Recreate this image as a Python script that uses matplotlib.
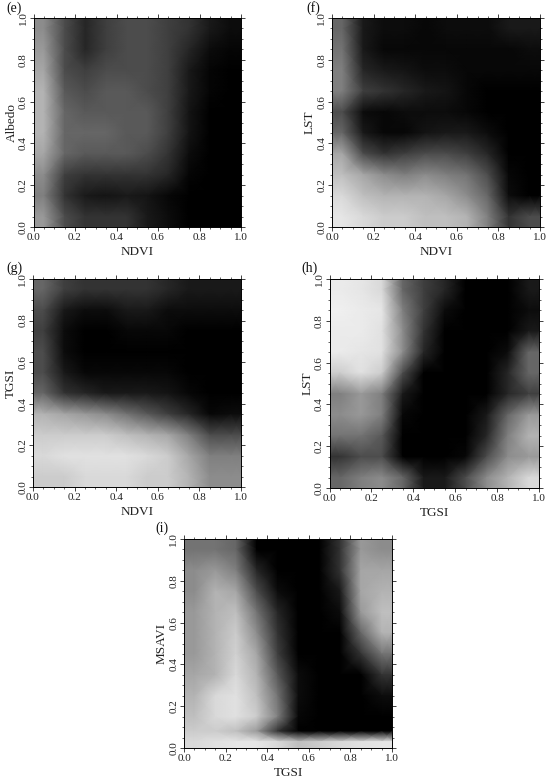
import numpy as np
import matplotlib
matplotlib.use("Agg")
import matplotlib.pyplot as plt
from matplotlib.ticker import MultipleLocator

plt.rcParams['font.family'] = ['Liberation Serif', 'DejaVu Serif']

# Estimated ink coverage of each panel.
# Rows run from the top of the panel down; columns from x = 0.05 to x = 0.95.
x_levels = [.05, .15, .25, .35, .45, .55, .65, .75, .85, .95]
y_levels = [.95, .85, .75, .65, .55, .45, .35, .25, .15, .05]
y_levels_msavi = [.95, .85, .75, .65, .55, .45, .35, .25, .15, .08, .03]

albedo_ndvi = [
    [.45, .70, .85, .75, .70, .70, .75, .80, .90, .95],
    [.40, .70, .85, .75, .70, .70, .75, .85, .95, .98],
    [.35, .70, .75, .70, .70, .70, .75, .90, .98, 1.0],
    [.30, .65, .70, .65, .65, .70, .75, .90, .98, 1.0],
    [.30, .60, .65, .65, .65, .65, .75, .92, 1.0, 1.0],
    [.30, .60, .60, .60, .65, .65, .75, .92, 1.0, 1.0],
    [.35, .60, .65, .65, .65, .70, .80, .95, 1.0, 1.0],
    [.45, .75, .80, .80, .80, .80, .85, .98, 1.0, 1.0],
    [.50, .80, .90, .92, .90, .92, .97, 1.0, 1.0, 1.0],
    [.40, .70, .80, .80, .80, .90, .95, 1.0, 1.0, 1.0],
]
lst_ndvi = [
    [.60, .90, .95, .95, .97, .95, .95, .95, .90, .90],
    [.55, .90, .97, .97, .97, .97, .97, .97, .97, .95],
    [.50, .85, .90, .92, .95, .95, .97, .97, .97, .97],
    [.50, .75, .80, .85, .90, .92, .97, 1.0, 1.0, 1.0],
    [.70, .95, .97, .95, .95, .95, .97, 1.0, 1.0, 1.0],
    [.60, .90, .97, .97, .92, .90, .90, .95, 1.0, 1.0],
    [.35, .70, .80, .75, .70, .70, .75, .85, 1.0, 1.0],
    [.25, .35, .45, .50, .45, .50, .55, .70, .97, 1.0],
    [.15, .25, .30, .30, .30, .35, .45, .60, .95, 1.0],
    [.10, .15, .20, .20, .25, .25, .30, .50, .80, .70],
]
tgsi_ndvi = [
    [.60, .75, .80, .80, .80, .80, .85, .90, .90, .90],
    [.70, .90, .95, .95, .90, .90, .95, .95, .95, .95],
    [.75, .95, 1.0, 1.0, .97, .97, .97, 1.0, 1.0, 1.0],
    [.70, .95, 1.0, 1.0, 1.0, 1.0, 1.0, 1.0, 1.0, 1.0],
    [.70, .90, .97, .97, .97, .97, .97, 1.0, 1.0, 1.0],
    [.60, .80, .85, .90, .90, .90, .92, .97, 1.0, 1.0],
    [.30, .35, .40, .45, .55, .65, .75, .85, .97, .95],
    [.20, .20, .20, .20, .25, .30, .35, .50, .70, .70],
    [.15, .12, .12, .12, .12, .15, .20, .35, .50, .50],
    [.20, .20, .15, .15, .15, .20, .20, .30, .45, .45],
]
lst_tgsi = [
    [.08, .10, .15, .60, .75, .85, 1.0, 1.0, 1.0, .90],
    [.06, .08, .10, .50, .75, .95, 1.0, 1.0, 1.0, .95],
    [.08, .08, .12, .45, .80, 1.0, 1.0, 1.0, 1.0, .90],
    [.08, .10, .12, .45, .85, 1.0, 1.0, 1.0, .95, .60],
    [.20, .12, .20, .70, 1.0, 1.0, 1.0, 1.0, .85, .60],
    [.50, .40, .50, .90, 1.0, 1.0, 1.0, 1.0, .85, .75],
    [.45, .40, .50, .97, 1.0, 1.0, 1.0, .90, .60, .40],
    [.55, .55, .65, 1.0, 1.0, 1.0, 1.0, .85, .50, .30],
    [.80, .70, .70, 1.0, 1.0, 1.0, .97, .70, .45, .40],
    [.60, .50, .45, .60, .90, .90, .70, .45, .30, .15],
]
msavi_tgsi = [
    [.55, .55, .60, 1.0, 1.0, 1.0, 1.0, .80, .40, .45],
    [.45, .40, .50, .85, 1.0, 1.0, 1.0, .80, .35, .35],
    [.45, .30, .35, .70, .95, 1.0, 1.0, .90, .35, .30],
    [.40, .30, .25, .55, .85, 1.0, 1.0, .95, .40, .25],
    [.40, .30, .20, .45, .80, 1.0, 1.0, 1.0, .60, .30],
    [.40, .30, .18, .35, .75, 1.0, 1.0, 1.0, .80, .55],
    [.35, .30, .15, .30, .65, .95, 1.0, 1.0, 1.0, .80],
    [.30, .15, .12, .25, .55, .95, 1.0, 1.0, 1.0, .95],
    [.25, .15, .12, .20, .50, .97, 1.0, 1.0, 1.0, 1.0],
    [.20, .20, .25, .40, .80, 1.0, 1.0, 1.0, 1.0, 1.0],
    [.15, .12, .10, .10, .15, .25, .20, .15, .12, .10],
]

panel_tags = ['(e)', '(f)', '(g)', '(h)', '(i)']
x_titles = ['NDVI', 'NDVI', 'NDVI', 'TGSI', 'TGSI']
y_titles = ['Albedo', 'LST', 'TGSI', 'LST', 'MSAVI']
grids = [albedo_ndvi, lst_ndvi, tgsi_ndvi, lst_tgsi, msavi_tgsi]
grid_rows = [y_levels, y_levels, y_levels, y_levels, y_levels_msavi]
tick_labels = ['0.0', '0.2', '0.4', '0.6', '0.8', '1.0']

W, H = 550, 780
boxes = [(33.5, 18, 241, 227), (332, 18, 540, 227), (33, 279, 241, 487),
         (329.5, 279, 539, 488), (184, 539, 392, 748)]
tag_xy = [(6, 8), (306, 8), (6, 268), (301, 268), (155, 528)]

fig = plt.figure(figsize=(W / 100, H / 100), dpi=100)
ticks = [0, .2, .4, .6, .8, 1]
for grid, rows, box, tag, xy, xt, yt in zip(grids, grid_rows, boxes, panel_tags, tag_xy, x_titles, y_titles):
    l, t, r, b = box
    ax = fig.add_axes([l / W, 1 - b / H, (r - l) / W, (b - t) / H])
    # repeat the outer rows and columns so the shading reaches the frame
    xs = np.concatenate(([0], x_levels, [1]))
    ys = np.concatenate(([1], rows, [0]))
    zs = np.pad(np.array(grid), 1, mode='edge')
    ax.pcolormesh(xs, ys, zs, cmap='gray_r', vmin=0, vmax=1, shading='gouraud')
    ax.set_xlim(0, 1)
    ax.set_ylim(0, 1)
    ax.set_xticks(ticks, tick_labels, fontsize=8)
    ax.set_yticks(ticks, tick_labels, fontsize=8, rotation=90, va='center')
    ax.xaxis.set_minor_locator(MultipleLocator(0.05))
    ax.yaxis.set_minor_locator(MultipleLocator(0.05))
    ax.tick_params(which='major', direction='out', length=3, width=0.6, pad=1,
                   top=True, right=True, colors='#222222')
    ax.tick_params(which='minor', direction='out', length=1.5, width=0.5,
                   top=True, right=True, colors='#222222')
    for s in ax.spines.values():
        s.set_linewidth(0.7)
    ax.set_xlabel(xt, fontsize=9.5, labelpad=3, color='#222222')
    ax.set_ylabel(yt, fontsize=9.5, labelpad=1, color='#222222')
    fig.text(xy[0] / W, 1 - xy[1] / H, tag, fontsize=10, va='center', ha='left', color='#111111')

fig.savefig('out.png', dpi=100)
